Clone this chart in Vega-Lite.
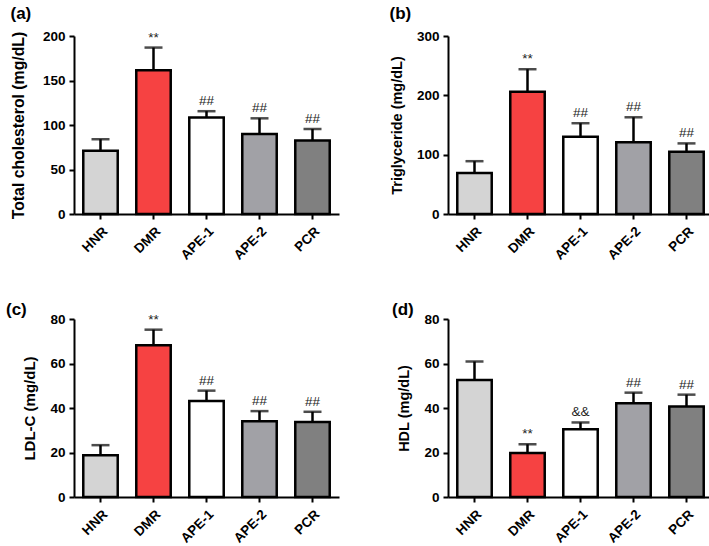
{
  "$schema": "https://vega.github.io/schema/vega-lite/v6.json",
  "background": "white",
  "padding": 5,
  "bounds": "flush",
  "columns": 2,
  "spacing": {"column": 109, "row": 105},
  "config": {
    "font": "Liberation Sans",
    "view": {"stroke": null},
    "axis": {
      "domainColor": "black", "domainWidth": 2, "tickColor": "black", "tickWidth": 2, "tickSize": 5,
      "labelColor": "black", "labelFont": "Liberation Sans", "labelFontWeight": "bold", "labelFontSize": 13.5,
      "titleColor": "black", "titleFont": "Liberation Sans", "titleFontWeight": "bold", "grid": false, "labelPadding": 4
    },
    "title": {"fontSize": 17, "fontWeight": "bold", "anchor": "start", "frame": "bounds", "color": "black", "font": "Liberation Sans"}
  },
  "data": {"values": [
    {"panel": "a", "group": "HNR", "mean": 71, "upper": 84, "sig": ""},
    {"panel": "a", "group": "DMR", "mean": 161.5, "upper": 187, "sig": "**"},
    {"panel": "a", "group": "APE-1", "mean": 108.5, "upper": 115.5, "sig": "##"},
    {"panel": "a", "group": "APE-2", "mean": 90, "upper": 107.5, "sig": "##"},
    {"panel": "a", "group": "PCR", "mean": 82.5, "upper": 95.5, "sig": "##"},
    {"panel": "b", "group": "HNR", "mean": 69, "upper": 89, "sig": ""},
    {"panel": "b", "group": "DMR", "mean": 206, "upper": 244, "sig": "**"},
    {"panel": "b", "group": "APE-1", "mean": 130, "upper": 153, "sig": "##"},
    {"panel": "b", "group": "APE-2", "mean": 121, "upper": 163, "sig": "##"},
    {"panel": "b", "group": "PCR", "mean": 105, "upper": 119, "sig": "##"},
    {"panel": "c", "group": "HNR", "mean": 18.8, "upper": 23.3, "sig": ""},
    {"panel": "c", "group": "DMR", "mean": 68.2, "upper": 75.2, "sig": "**"},
    {"panel": "c", "group": "APE-1", "mean": 43.1, "upper": 47.8, "sig": "##"},
    {"panel": "c", "group": "APE-2", "mean": 34.1, "upper": 38.6, "sig": "##"},
    {"panel": "c", "group": "PCR", "mean": 33.7, "upper": 38.3, "sig": "##"},
    {"panel": "d", "group": "HNR", "mean": 52.6, "upper": 60.9, "sig": ""},
    {"panel": "d", "group": "DMR", "mean": 19.8, "upper": 23.7, "sig": "**"},
    {"panel": "d", "group": "APE-1", "mean": 30.5, "upper": 33.5, "sig": "&&"},
    {"panel": "d", "group": "APE-2", "mean": 42.1, "upper": 46.9, "sig": "##"},
    {"panel": "d", "group": "PCR", "mean": 40.7, "upper": 46, "sig": "##"}
  ]},
  "concat": [
    {
      "width": 265, "height": 178,
      "title": {"text": "(a)", "offset": 6},
      "transform": [{"filter": "datum.panel === 'a'"}],
      "encoding": {
        "x": {"field": "group", "type": "nominal", "sort": null, "scale": {"paddingInner": 0.35, "paddingOuter": 0.175}, "axis": {"title": null, "labelAngle": -45, "labelPadding": 5}},
        "y": {"field": "mean", "type": "quantitative", "scale": {"domain": [0, 200], "nice": false}, "axis": {"title": "Total cholesterol (mg/dL)", "values": [0, 50, 100, 150, 200], "titleFontSize": 15.8, "titlePadding": 16}}
      },
      "layer": [
        {"mark": {"type": "bar", "stroke": "black", "strokeWidth": 2.5}, "encoding": {"color": {"field": "group", "type": "nominal", "scale": {"domain": ["HNR", "DMR", "APE-1", "APE-2", "PCR"], "range": ["#d4d4d4", "#f64242", "#ffffff", "#a1a1a6", "#808080"]}, "legend": null}}},
        {"mark": {"type": "rule", "strokeWidth": 2.5, "color": "black"}, "encoding": {"y2": {"field": "upper"}}},
        {"mark": {"type": "tick", "thickness": 2.5, "size": 18, "color": "black"}, "encoding": {"y": {"field": "upper", "type": "quantitative"}}},
        {"mark": {"type": "text", "baseline": "bottom", "dy": -3, "fontSize": 13.5, "color": "#222222"}, "encoding": {"y": {"field": "upper", "type": "quantitative"}, "text": {"field": "sig"}}}
      ]
    },
    {
      "width": 265, "height": 178,
      "title": {"text": "(b)", "offset": 6},
      "transform": [{"filter": "datum.panel === 'b'"}],
      "encoding": {
        "x": {"field": "group", "type": "nominal", "sort": null, "scale": {"paddingInner": 0.35, "paddingOuter": 0.175}, "axis": {"title": null, "labelAngle": -45, "labelPadding": 5}},
        "y": {"field": "mean", "type": "quantitative", "scale": {"domain": [0, 300], "nice": false}, "axis": {"title": "Triglyceride (mg/dL)", "values": [0, 100, 200, 300], "titleFontSize": 14.5, "titlePadding": 12}}
      },
      "layer": [
        {"mark": {"type": "bar", "stroke": "black", "strokeWidth": 2.5}, "encoding": {"color": {"field": "group", "type": "nominal", "scale": {"domain": ["HNR", "DMR", "APE-1", "APE-2", "PCR"], "range": ["#d4d4d4", "#f64242", "#ffffff", "#a1a1a6", "#808080"]}, "legend": null}}},
        {"mark": {"type": "rule", "strokeWidth": 2.5, "color": "black"}, "encoding": {"y2": {"field": "upper"}}},
        {"mark": {"type": "tick", "thickness": 2.5, "size": 18, "color": "black"}, "encoding": {"y": {"field": "upper", "type": "quantitative"}}},
        {"mark": {"type": "text", "baseline": "bottom", "dy": -3, "fontSize": 13.5, "color": "#222222"}, "encoding": {"y": {"field": "upper", "type": "quantitative"}, "text": {"field": "sig"}}}
      ]
    },
    {
      "width": 265, "height": 178,
      "title": {"text": "(c)", "offset": 2, "dx": -17, "dy": 9},
      "transform": [{"filter": "datum.panel === 'c'"}],
      "encoding": {
        "x": {"field": "group", "type": "nominal", "sort": null, "scale": {"paddingInner": 0.35, "paddingOuter": 0.175}, "axis": {"title": null, "labelAngle": -45, "labelPadding": 5}},
        "y": {"field": "mean", "type": "quantitative", "scale": {"domain": [0, 80], "nice": false}, "axis": {"title": "LDL-C (mg/dL)", "values": [0, 20, 40, 60, 80], "titleFontSize": 15, "titlePadding": 12}}
      },
      "layer": [
        {"mark": {"type": "bar", "stroke": "black", "strokeWidth": 2.5}, "encoding": {"color": {"field": "group", "type": "nominal", "scale": {"domain": ["HNR", "DMR", "APE-1", "APE-2", "PCR"], "range": ["#d4d4d4", "#f64242", "#ffffff", "#a1a1a6", "#808080"]}, "legend": null}}},
        {"mark": {"type": "rule", "strokeWidth": 2.5, "color": "black"}, "encoding": {"y2": {"field": "upper"}}},
        {"mark": {"type": "tick", "thickness": 2.5, "size": 18, "color": "black"}, "encoding": {"y": {"field": "upper", "type": "quantitative"}}},
        {"mark": {"type": "text", "baseline": "bottom", "dy": -3, "fontSize": 13.5, "color": "#222222"}, "encoding": {"y": {"field": "upper", "type": "quantitative"}, "text": {"field": "sig"}}}
      ]
    },
    {
      "width": 265, "height": 178,
      "title": {"text": "(d)", "offset": 2, "dx": -5, "dy": 9},
      "transform": [{"filter": "datum.panel === 'd'"}],
      "encoding": {
        "x": {"field": "group", "type": "nominal", "sort": null, "scale": {"paddingInner": 0.35, "paddingOuter": 0.175}, "axis": {"title": null, "labelAngle": -45, "labelPadding": 5}},
        "y": {"field": "mean", "type": "quantitative", "scale": {"domain": [0, 80], "nice": false}, "axis": {"title": "HDL (mg/dL)", "values": [0, 20, 40, 60, 80], "titleFontSize": 14.5, "titlePadding": 12}}
      },
      "layer": [
        {"mark": {"type": "bar", "stroke": "black", "strokeWidth": 2.5}, "encoding": {"color": {"field": "group", "type": "nominal", "scale": {"domain": ["HNR", "DMR", "APE-1", "APE-2", "PCR"], "range": ["#d4d4d4", "#f64242", "#ffffff", "#a1a1a6", "#808080"]}, "legend": null}}},
        {"mark": {"type": "rule", "strokeWidth": 2.5, "color": "black"}, "encoding": {"y2": {"field": "upper"}}},
        {"mark": {"type": "tick", "thickness": 2.5, "size": 18, "color": "black"}, "encoding": {"y": {"field": "upper", "type": "quantitative"}}},
        {"mark": {"type": "text", "baseline": "bottom", "dy": -3, "fontSize": 13.5, "color": "#222222"}, "encoding": {"y": {"field": "upper", "type": "quantitative"}, "text": {"field": "sig"}}}
      ]
    }
  ]
}
